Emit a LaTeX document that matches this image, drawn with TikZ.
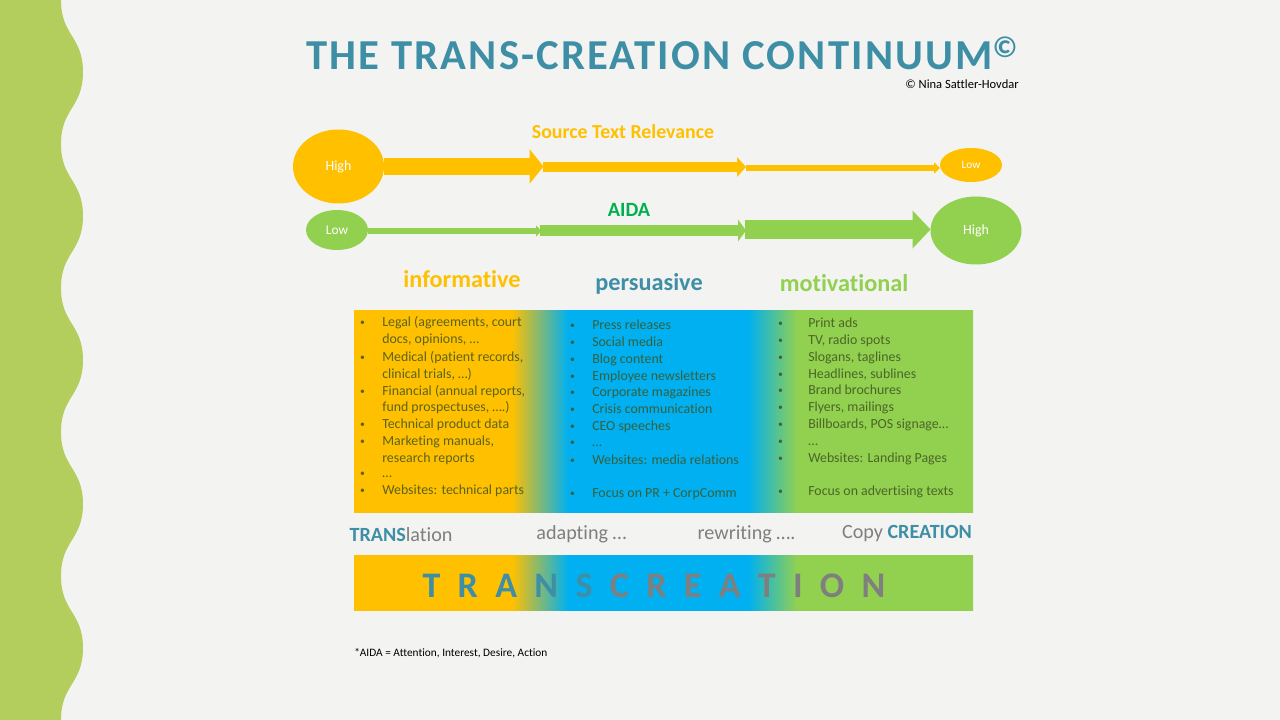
\documentclass[tikz,border=0pt]{standalone}
\usepackage{fontspec}
\setmainfont[Ligatures=NoCommon]{Carlito}
\usetikzlibrary{arrows.meta,shapes.geometric}
\definecolor{bgpage}{HTML}{F3F3F1}
\definecolor{sidegreen}{HTML}{B4CE5E}
\definecolor{transyellow}{HTML}{FFC000}
\definecolor{transblue}{HTML}{00B0F0}
\definecolor{transgreen}{HTML}{92D050}
\definecolor{aidagreen}{HTML}{00B050}
\definecolor{transteal}{HTML}{3E8FA6}
\definecolor{transgray}{HTML}{7F7F7F}
\definecolor{itemolive}{HTML}{3F5320}
\pgfdeclarehorizontalshading{transband}{100bp}{color(0bp)=(transyellow); color(37.76bp)=(transyellow); color(42.29bp)=(transblue); color(56.82bp)=(transblue); color(60.8bp)=(transgreen); color(100bp)=(transgreen)}
\tikzset{
  blob/.style={ellipse,inner sep=0pt,outer sep=0pt,text=white},
  flow/.style n args={3}{line width=#1*0.75pt,-{Triangle[length=#2*0.75pt,width=#3*0.75pt]}},
  band/.style={rectangle,inner sep=0pt,outer sep=0pt,shading=transband},
  itemtxt/.style={anchor=base west,inner sep=0pt,yshift=-0.5pt,text=itemolive,text opacity=0.85,font=\fontsize{10.4}{12}\selectfont},
  headtxt/.style={anchor=base,inner sep=0pt,font=\fontsize{18.2}{20}\selectfont\bfseries},
  sidetxt/.style={anchor=base,inner sep=0pt,text=transgray,font=\fontsize{15.1}{18}\selectfont}
}
\newcommand{\bul}{\makebox[0pt][r]{\raisebox{0.7pt}{\scalebox{0.7}{\textbullet}}\hspace{\bulgap}}}
\begin{document}
\begin{tikzpicture}[x=0.75pt,y=0.75pt,yscale=-1,xscale=1]
\useasboundingbox (0,0) rectangle (1280,720);
\fill [bgpage] (0,0) rectangle (1280,720);

%Side wave
\fill [sidegreen] (0,0) -- (61,0) \foreach \k in {0,144,288,432,576}{ .. controls (61,\k+36) and (83,\k+36) .. (83,\k+72) .. controls (83,\k+108) and (61,\k+108) .. (61,\k+144) } -- (0,720) -- cycle ;

% Text Node
\draw (306,70) node (title) [anchor=base west,inner sep=0pt,text=transteal,font=\fontsize{32}{36}\selectfont\bfseries\addfontfeature{LetterSpace=5.1}] {THE TRANS-CREATION CONTINUUM\textsuperscript{©}};
% Text Node
\draw (1019,88.5) node (credit) [anchor=base east,inner sep=0pt,font=\fontsize{9.4}{11}\selectfont] {© Nina Sattler-Hovdar};

%Source row
\draw (338.5,166.5) node (srcHigh) [blob,minimum width=91pt*0.75,minimum height=74pt*0.75,fill=transyellow,font=\fontsize{10.5}{12}\selectfont] {High};
\draw (971,165) node (srcLow) [blob,minimum width=62pt*0.75,minimum height=34pt*0.75,fill=transyellow,font=\fontsize{8.5}{10}\selectfont] {Low};
\coordinate (srcA) at (543.5,166.5);
\coordinate (srcB) at (746,167);
\coordinate (srcC) at (542.5,167);
\coordinate (srcD) at (746,168);
\draw [flow={17}{14}{34},transyellow] (srcHigh) -- (srcA);
\draw [flow={10}{9}{19.5},transyellow] (srcC) -- (srcB);
\draw [flow={6}{6}{11},transyellow] (srcD) -- (srcLow.west |- srcD);

%Aida row
\draw (337,230) node (aidaLow) [blob,minimum width=62pt*0.75,minimum height=40pt*0.75,fill=transgreen,font=\fontsize{10}{12}\selectfont] {Low};
\draw (976,230.5) node (aidaHigh) [blob,minimum width=91pt*0.75,minimum height=68pt*0.75,fill=transgreen,font=\fontsize{10.5}{12}\selectfont] {High};
\coordinate (aidaA) at (541.5,231);
\coordinate (aidaB) at (539.5,230.5);
\coordinate (aidaC) at (746,230.5);
\coordinate (aidaD) at (744.5,229.5);
\draw [flow={6}{5.5}{11},transgreen] (aidaLow.east |- aidaA) -- (aidaA);
\draw [flow={11}{8}{21.5},transgreen] (aidaB) -- (aidaC);
\draw [flow={19}{18}{37},transgreen] (aidaD) -- (aidaHigh.west |- aidaD);

% Text Node
\draw (623,139) node (srcLabel) [headtxt,text=transyellow,font=\fontsize{14.9}{17}\selectfont\bfseries] {Source Text Relevance};
% Text Node
\draw (629,216.5) node (aidaLabel) [headtxt,text=aidagreen,font=\fontsize{15.2}{17}\selectfont\bfseries] {AIDA};
% Text Node
\draw (462,287) node (informative) [headtxt,text=transyellow] {informative};
% Text Node
\draw (649,290) node (persuasive) [headtxt,text=transteal] {persuasive};
% Text Node
\draw (844,291) node (motivational) [headtxt,text=transgreen] {motivational};

%List band
\draw (663.5,411.2) node (listBand) [band,minimum width=619pt*0.75,minimum height=202.4pt*0.75] {};

\def\bulgap{13pt}
\foreach \y/\txt [count=\n] in {326/{\bul Legal (agreements, court},343/{docs, opinions,  …},360.5/{\bul Medical (patient records,},377.5/{clinical trials, …)},394.5/{\bul Financial (annual reports,},411/{fund prospectuses,  ….)},428/{\bul Technical product data},445/{\bul Marketing manuals,},461.5/{research reports},477/{\bul …},494/{\bul Websites: technical parts}}
  \draw (382,\y) node (inf\n) [itemtxt] {\txt};

\def\bulgap{13pt}
\foreach \y/\txt [count=\n] in {329/{Press releases},345.5/{Social media},362.5/{Blog content},379.5/{Employee newsletters},395.5/{Corporate magazines},412.5/{Crisis communication},429.5/{CEO speeches},446/{…},463.5/{Websites: media relations},496.5/{Focus on PR + CorpComm}}
  \draw (592,\y) node (per\n) [itemtxt] {\bul\txt};

\def\bulgap{19pt}
\foreach \y/\txt [count=\n] in {326.5/{Print ads},343.5/{TV, radio spots},360.5/{Slogans, taglines},377.5/{Headlines, sublines},394/{Brand brochures},411/{Flyers, mailings},427.5/{Billboards, POS signage…},445/{…},461.5/{Websites: Landing Pages},494.5/{Focus on advertising texts}}
  \draw (808,\y) node (mot\n) [itemtxt] {\bul\txt};

% Text Node
\draw (401,541) node (translation) [sidetxt] {{\bfseries\color{transteal}TRANS}lation};
% Text Node
\draw (581.5,539) node (adapting) [sidetxt] {adapting …};
% Text Node
\draw (746.5,539) node (rewriting) [sidetxt] {rewriting ….};
% Text Node
\draw (907,538) node (copy) [sidetxt] {Copy {\bfseries\color{transteal}CREATION}};

%Word band
\draw (663.5,582.7) node (wordBand) [band,minimum width=619pt*0.75,minimum height=55.4pt*0.75] {};
% Text Node
\draw (654,597.5) node (word) [anchor=base,inner sep=0pt,text=transgray,font=\fontsize{27}{30}\selectfont\bfseries] {\spaceskip=13pt\color{transteal}T R A N S \color{transgray}C R E A T I O N};

% Text Node
\draw (354,656) node (note) [anchor=base west,inner sep=0pt,font=\fontsize{8.5}{10}\selectfont] {*AIDA = Attention, Interest, Desire, Action};
\end{tikzpicture}
\end{document}
